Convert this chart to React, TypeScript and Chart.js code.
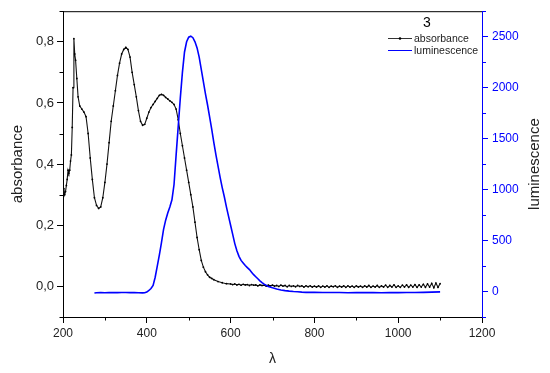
import { useEffect, useRef } from 'react';
import { Chart, registerables } from 'chart.js';
Chart.register(...registerables);

const absWavelength = [
  200, 202, 204, 206, 208, 210, 212, 214, 216, 218, 220, 222, 224, 226, 228, 230, 233, 236, 240, 245,
  250, 255, 260, 265, 270, 275, 280, 285, 290, 295, 300, 305, 310, 315, 320, 325, 330, 335, 340, 345,
  350, 355, 360, 365, 370, 375, 380, 385, 390, 395, 400, 405, 410, 415, 420, 425, 430, 435, 440, 445,
  450, 455, 460, 465, 470, 475, 480, 485, 490, 495, 500, 505, 510, 515, 520, 525, 530, 535, 540, 545,
  550, 555, 560, 570, 580, 590, 600,
  605, 610, 615, 620, 625, 630, 635, 640, 645, 650, 655, 660, 665, 670, 675, 680, 685, 690, 695, 700,
  705, 710, 715, 720, 725, 730, 735, 740, 745, 750, 755, 760, 765, 770, 775, 780, 785, 790, 795, 800,
  805, 810, 815, 820, 825, 830, 835, 840, 845, 850, 855, 860, 865, 870, 875, 880, 885, 890, 895, 900,
  905, 910, 915, 920, 925, 930, 935, 940, 945, 950, 955, 960, 965, 970, 975, 980, 985, 990, 995, 1000,
  1005, 1010, 1015, 1020, 1025, 1030, 1035, 1040, 1045, 1050, 1055, 1060, 1065, 1070, 1075, 1080, 1085, 1090, 1095, 1100,
];
const absValues = [
  0.30, 0.32, 0.30, 0.31, 0.33, 0.35, 0.38, 0.37, 0.38, 0.41, 0.43, 0.52, 0.65, 0.81, 0.76, 0.74, 0.68, 0.62, 0.59, 0.58,
  0.57, 0.555, 0.50, 0.42, 0.35, 0.29, 0.265, 0.255, 0.26, 0.29, 0.34, 0.40, 0.47, 0.54, 0.59, 0.64, 0.69, 0.73, 0.76, 0.775,
  0.782, 0.775, 0.75, 0.70, 0.66, 0.62, 0.575, 0.54, 0.527, 0.53, 0.55, 0.57, 0.585, 0.595, 0.605, 0.615, 0.625, 0.628, 0.625, 0.618,
  0.613, 0.607, 0.602, 0.595, 0.58, 0.545, 0.50, 0.46, 0.42, 0.38, 0.34, 0.30, 0.26, 0.21, 0.16, 0.12, 0.085, 0.063, 0.048, 0.038,
  0.03, 0.026, 0.022, 0.016, 0.012, 0.009, 0.008,
  0.006, 0.008, 0.005, 0.007, 0.004, 0.007, 0.005, 0.006, 0.003, 0.006, 0.004, 0.005, 0.002, 0.005, 0.003, 0.004, 0.001, 0.004, 0.002, 0.004,
  0.001, 0.003, 0.000, 0.004, 0.001, 0.003, -0.001, 0.003, 0.000, 0.002, -0.001, 0.003, 0.000, 0.002, -0.002, 0.002, -0.001, 0.002, -0.002, 0.001,
  -0.002, 0.002, -0.003, 0.001, -0.002, 0.002, -0.003, 0.001, -0.001, 0.002, -0.003, 0.001, -0.002, 0.002, -0.003, 0.002, -0.002, 0.001, -0.003, 0.002,
  -0.002, 0.001, -0.003, 0.002, -0.002, 0.003, -0.003, 0.001, -0.002, 0.003, -0.003, 0.002, -0.002, 0.004, -0.003, 0.003, -0.002, 0.005, -0.003, 0.002,
  -0.003, 0.004, -0.002, 0.005, -0.003, 0.004, -0.002, 0.006, -0.003, 0.005, -0.002, 0.007, -0.003, 0.008, -0.002, 0.010, -0.004, 0.011, -0.003, 0.009,
];

const lumWavelength = [
  275, 280, 290, 300, 310, 320, 330, 340, 350, 360, 370, 380, 390, 395, 400, 405, 410, 415, 420, 425,
  430, 435, 440, 445, 450, 455, 460, 465, 470, 475, 480, 485, 490, 495, 500, 505, 510, 515, 520, 525,
  530, 535, 540, 545, 550, 555, 560, 565, 570, 575, 580, 585, 590, 595, 600, 605, 610, 615, 620, 625,
  630, 635, 640, 645, 650, 655, 660, 665, 670, 675, 680, 690, 700, 710, 720, 730, 740, 750, 760, 770,
  780, 790, 800, 820, 840, 860, 880, 900, 920, 940, 960, 980, 1000, 1020, 1040, 1060, 1080, 1100,
];
const lumValues = [
  -15, -12, -10, -12, -11, -10, -11, -9, -10, -11, -10, -12, -13, -12, -5, 10, 30, 60, 140, 250,
  360, 480, 610, 700, 770, 830, 900, 1050, 1340, 1620, 1900, 2150, 2350, 2450, 2495, 2505, 2490, 2450, 2390, 2300,
  2180, 2060, 1940, 1830, 1710, 1590, 1460, 1340, 1230, 1120, 1020, 930, 830, 740, 650, 560, 470, 400, 345, 305,
  280, 255, 235, 215, 190, 165, 145, 125, 105, 88, 72, 50, 36, 24, 15, 9, 4, 0, -3, -6,
  -8, -8, -7, -9, -10, -9, -12, -10, -11, -9, -12, -10, -11, -9, -10, -8, -6, -4,
];

const xTicks = [200, 400, 600, 800, 1000, 1200];
const xMinorTicks = [300, 500, 700, 900, 1100];
const absTicks = [0, 0.2, 0.4, 0.6, 0.8];
const absMinorTicks = [-0.1, 0.1, 0.3, 0.5, 0.7, 0.9];
const lumTicks = [0, 500, 1000, 1500, 2000, 2500];
const lumMinorTicks = [-250, 250, 750, 1250, 1750, 2250, 2750];

const seriesLabels = ['absorbance', 'luminescence'];
const legendTitle = '3';
const xTitle = 'λ';

const FONT = '"Liberation Sans", Arial, sans-serif';
const BLUE = '#0000ff';

export default function App() {
  const ref = useRef<HTMLCanvasElement | null>(null);
  useEffect(() => {
    if (!ref.current) return;
    const extras = {
      id: 'extras',
      afterDraw(chart: any) {
        const { ctx, chartArea: a, scales } = chart;
        ctx.save();
        ctx.lineWidth = 1;
        ctx.strokeStyle = '#000';
        ctx.beginPath();
        ctx.moveTo(a.left, a.top + 0.5);
        ctx.lineTo(a.right, a.top + 0.5);
        ctx.stroke();
        ctx.beginPath();
        for (const v of xMinorTicks) {
          const p = Math.round(scales.x.getPixelForValue(v)) + 0.5;
          ctx.moveTo(p, a.bottom);
          ctx.lineTo(p, a.bottom + 3.5);
        }
        for (const v of absMinorTicks) {
          const p = Math.round(scales.y.getPixelForValue(v)) + 0.5;
          ctx.moveTo(a.left, p);
          ctx.lineTo(a.left - 3.5, p);
        }
        ctx.stroke();
        ctx.strokeStyle = BLUE;
        ctx.beginPath();
        for (const v of lumMinorTicks) {
          const p = Math.round(scales.y1.getPixelForValue(v)) + 0.5;
          ctx.moveTo(a.right, p);
          ctx.lineTo(a.right + 4, p);
        }
        ctx.stroke();
        // right axis title, reading bottom-to-top
        ctx.save();
        ctx.translate(535, (a.top + a.bottom) / 2);
        ctx.rotate(-Math.PI / 2);
        ctx.fillStyle = '#222';
        ctx.font = `15px ${FONT}`;
        ctx.textAlign = 'center';
        ctx.textBaseline = 'middle';
        ctx.fillText(seriesLabels[1], 0, 0);
        ctx.restore();
        // legend
        ctx.fillStyle = '#000';
        ctx.font = `14px ${FONT}`;
        ctx.textAlign = 'center';
        ctx.textBaseline = 'middle';
        ctx.fillText(legendTitle, 427, 23);
        ctx.font = `10.5px ${FONT}`;
        ctx.textAlign = 'left';
        const rows = [
          { y: 38.5, color: '#333', dot: true },
          { y: 50.5, color: BLUE, dot: false },
        ];
        rows.forEach((r, i) => {
          ctx.strokeStyle = r.color;
          ctx.lineWidth = 1;
          ctx.beginPath();
          ctx.moveTo(388, r.y);
          ctx.lineTo(412, r.y);
          ctx.stroke();
          if (r.dot) {
            ctx.fillStyle = '#000';
            ctx.beginPath();
            ctx.arc(400, r.y, 1.3, 0, Math.PI * 2);
            ctx.fill();
          }
          ctx.fillStyle = '#222';
          ctx.fillText(seriesLabels[i], 414, r.y + 0.5);
        });
        ctx.restore();
      },
    };
    const chart = new Chart(ref.current, {
      type: 'scatter',
      data: {
        datasets: [
          {
            label: seriesLabels[0],
            data: absWavelength.map((x, i) => ({ x, y: absValues[i] })),
            showLine: true,
            borderColor: '#111',
            borderWidth: 1.1,
            pointRadius: 0.9,
            pointBorderWidth: 0,
            pointBackgroundColor: '#000',
            yAxisID: 'y',
            order: 2,
          },
          {
            label: seriesLabels[1],
            data: lumWavelength.map((x, i) => ({ x, y: lumValues[i] })),
            showLine: true,
            borderColor: BLUE,
            borderWidth: 1.6,
            pointRadius: 0,
            yAxisID: 'y1',
            order: 1,
          },
        ],
      },
      options: {
        responsive: false,
        animation: false,
        layout: { padding: { top: 10, left: 0, right: 0, bottom: 0 } },
        plugins: { legend: { display: false }, tooltip: { enabled: false } },
        scales: {
          x: {
            type: 'linear',
            position: 'bottom',
            min: 200,
            max: 1200,
            afterBuildTicks: (s: any) => { s.ticks = xTicks.map((v) => ({ value: v })); },
            afterFit: (s: any) => { s.height = 56; },
            ticks: { font: { size: 12, family: FONT }, color: '#222', padding: 3, maxRotation: 0, callback: (v: any) => String(v) },
            grid: { drawOnChartArea: false, drawTicks: true, tickLength: 6, color: '#000' },
            border: { color: '#000', width: 1 },
            title: { display: true, text: xTitle, font: { size: 14, family: FONT }, color: '#222', padding: { top: 0, bottom: 5 } },
          },
          y: {
            type: 'linear',
            position: 'left',
            min: -0.1,
            max: 0.9,
            afterBuildTicks: (s: any) => { s.ticks = absTicks.map((v) => ({ value: v })); },
            afterFit: (s: any) => { s.width = 63; },
            ticks: {
              font: { size: 13, family: FONT },
              color: '#222',
              padding: 3,
              callback: (v: any) => Number(v).toFixed(1).replace('.', ','),
            },
            grid: { drawOnChartArea: false, drawTicks: true, tickLength: 6, color: '#000' },
            border: { color: '#000', width: 1 },
            title: { display: true, text: seriesLabels[0], font: { size: 15, family: FONT }, color: '#222', padding: { top: 9, bottom: 0 } },
          },
          y1: {
            type: 'linear',
            position: 'right',
            min: -250,
            max: 2750,
            afterBuildTicks: (s: any) => { s.ticks = lumTicks.map((v) => ({ value: v })); },
            afterFit: (s: any) => { s.width = 68; },
            ticks: { font: { size: 12, family: FONT }, color: BLUE, padding: 4, callback: (v: any) => String(v) },
            grid: { drawOnChartArea: false, drawTicks: true, tickLength: 6, color: BLUE },
            border: { color: BLUE, width: 1 },
            title: { display: false },
          },
        },
      },
      plugins: [extras],
    });
    return () => chart.destroy();
  }, []);
  return (
    <div style={{ position: 'fixed', left: 0, top: 0, width: 550, height: 373, background: '#fff' }}>
      <canvas ref={ref} width={550} height={373} style={{ display: 'block' }} />
    </div>
  );
}
